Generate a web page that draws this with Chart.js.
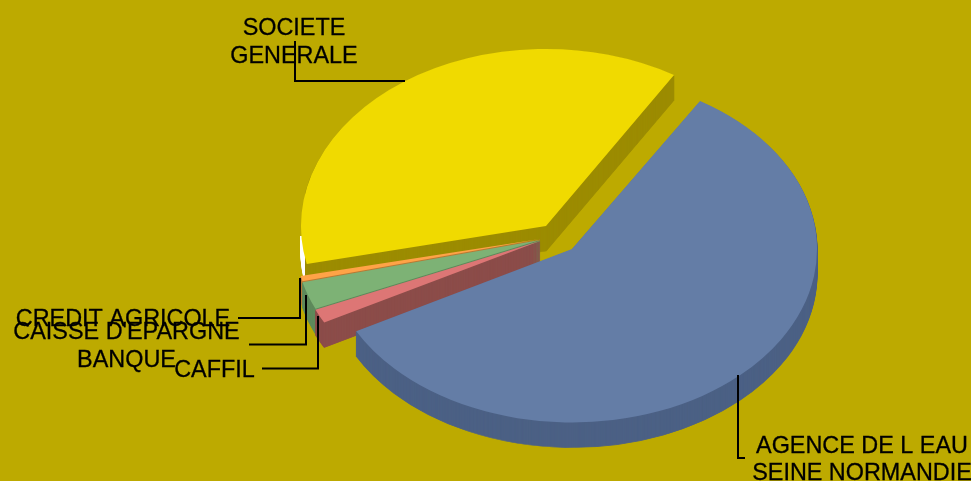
<!DOCTYPE html>
<html>
<head>
<meta charset="utf-8">
<title>Encours par preteur</title>
<script src="https://cdn.jsdelivr.net/npm/chart.js@4/dist/chart.umd.min.js"></script>
<style>
    html, body { margin: 0; padding: 0; background: #BDAA00; overflow: hidden; }
    canvas { display: block; }
</style>
</head>
<body>
<canvas id="myChart" width="971" height="481"></canvas>
<script>
var lenders = ['AGENCE DE L EAU SEINE NORMANDIE', 'CAFFIL', "CAISSE D'EPARGNE BANQUE", 'CREDIT AGRICOLE', 'SOCIETE GENERALE'];
var shares = [58.4, 1.3, 2.6, 0.5, 37.2];
var topColors = ['#647DA6', '#DD7675', '#7DB275', '#FFA347', '#F0DA00'];
var wallColors = ['#4C6185', '#8C4D4A', '#5E8A5B', '#B97A35', '#9C8C00'];

// tilt of the pie and how far each slice is pulled out of it
var pie = { x: 540, y: 240, rx: 245, depth: 25 };
var tilt = [173.5, 172, 172, 172, 177];
var pulled = [[32, 9], [0, 1], [0, 0], [0, -1], [6, -14]];
var drawOrder = [4, 3, 2, 1, 0];

// text lines with their anchor, then the leader line going to the slice
var labels = [
    { lines: [['AGENCE DE L EAU', 862, 453], ['SEINE NORMANDIE', 862, 480]], leader: [[738, 375], [738, 458], [745, 458]] },
    { lines: [['CAFFIL', 214.5, 377]], leader: [[262, 368.5], [318, 368.5], [318, 316]] },
    { lines: [["CAISSE D'EPARGNE", 126.5, 339], ['BANQUE', 126.5, 367]], leader: [[249, 344.5], [306, 344.5], [306, 295]] },
    { lines: [['CREDIT AGRICOLE', 123, 326]], leader: [[238, 318], [300, 318], [300, 278]] },
    { lines: [['SOCIETE', 294, 35], ['GENERALE', 294, 63]], leader: [[295, 41], [295, 81], [405, 81]] }
];

function drawSlice(ctx, arc, i, drop, color, edge) {
    var copy = Object.create(arc);
    copy.options = Object.assign({}, arc.options, { backgroundColor: color, borderColor: color, borderWidth: edge });
    ctx.save();
    ctx.translate(pie.x + pulled[i][0], pie.y + pulled[i][1] + drop);
    ctx.scale(pie.rx / arc.outerRadius, tilt[i] / arc.outerRadius);
    ctx.translate(-arc.x, -arc.y);
    copy.draw(ctx);
    ctx.restore();
}

function drawWall(ctx, arc, i, color) {
    for (var d = pie.depth; d > 0; d--) drawSlice(ctx, arc, i, d, color, 1);
}

var tiltedPie = {
    id: 'tiltedPie',
    beforeDatasetsDraw: function(chart) {
        var ctx = chart.ctx;
        var arcs = chart.getDatasetMeta(0).data;
        drawOrder.forEach(function(i) {
            if (i === 4) {
                // the far left of the yellow wall shows white, low down only
                ctx.save();
                ctx.beginPath();
                ctx.rect(0, 236, 305.5, chart.height);
                ctx.clip();
                drawWall(ctx, arcs[i], i, '#FFFFFF');
                ctx.restore();
                ctx.save();
                ctx.beginPath();
                ctx.rect(305.5, 0, chart.width, chart.height);
                ctx.clip();
                drawWall(ctx, arcs[i], i, wallColors[i]);
                ctx.restore();
            } else {
                drawWall(ctx, arcs[i], i, wallColors[i]);
            }
            drawSlice(ctx, arcs[i], i, 0, topColors[i], 0);
        });
        return false;
    },
    afterDraw: function(chart) {
        var ctx = chart.ctx;
        ctx.save();
        ctx.fillStyle = '#000000';
        ctx.strokeStyle = '#000000';
        ctx.font = '23.4px "Liberation Sans"';
        ctx.textAlign = 'center';
        ctx.textBaseline = 'alphabetic';
        labels.forEach(function(label) {
            ctx.lineWidth = 2;
            ctx.beginPath();
            label.leader.forEach(function(p, n) {
                if (n === 0) ctx.moveTo(p[0], p[1]);
                else ctx.lineTo(p[0], p[1]);
            });
            ctx.stroke();
            ctx.lineWidth = 0.3;
            label.lines.forEach(function(line) {
                ctx.fillText(line[0], line[1], line[2]);
                ctx.strokeText(line[0], line[1], line[2]);
            });
        });
        ctx.restore();
    }
};

new Chart(document.getElementById('myChart'), {
    type: 'pie',
    data: {
        labels: lenders,
        datasets: [{ data: shares, backgroundColor: topColors, borderWidth: 0 }]
    },
    options: {
        responsive: false,
        animation: false,
        events: [],
        rotation: 31.5,
        plugins: {
            legend: { display: false },
            tooltip: { enabled: false }
        }
    },
    plugins: [tiltedPie]
});
</script>
</body>
</html>
